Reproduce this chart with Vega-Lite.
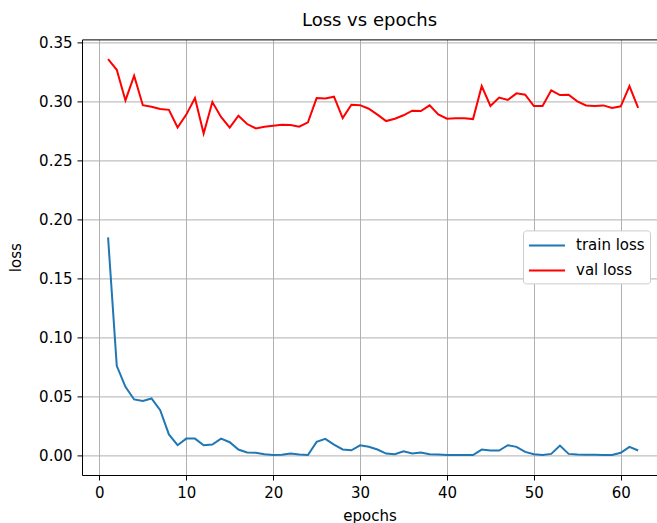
{
  "$schema": "https://vega.github.io/schema/vega-lite/v6.json",
  "autosize": "none",
  "width": 575,
  "height": 435.6,
  "padding": {"left": 82, "top": 39.4, "right": 0, "bottom": 48},
  "background": "white",
  "config": {
    "view": {"stroke": null},
    "font": "DejaVu Sans",
    "axis": {"labelFont": "DejaVu Sans", "titleFont": "DejaVu Sans", "labelColor": "#000", "titleColor": "#000", "titleFontWeight": "normal"}
  },
  "title": {"text": "Loss vs epochs", "fontSize": 18, "fontWeight": "normal", "font": "DejaVu Sans", "color": "#000", "offset": 6},
  "data": {"values": [
    {"epoch":1,"loss":0.1848,"series":"train loss"},{"epoch":2,"loss":0.0758,"series":"train loss"},{"epoch":3,"loss":0.058,"series":"train loss"},{"epoch":4,"loss":0.0473,"series":"train loss"},{"epoch":5,"loss":0.0461,"series":"train loss"},{"epoch":6,"loss":0.0481,"series":"train loss"},{"epoch":7,"loss":0.0382,"series":"train loss"},{"epoch":8,"loss":0.0176,"series":"train loss"},{"epoch":9,"loss":0.0085,"series":"train loss"},{"epoch":10,"loss":0.0141,"series":"train loss"},
    {"epoch":11,"loss":0.0141,"series":"train loss"},{"epoch":12,"loss":0.0085,"series":"train loss"},{"epoch":13,"loss":0.009,"series":"train loss"},{"epoch":14,"loss":0.0141,"series":"train loss"},{"epoch":15,"loss":0.011,"series":"train loss"},{"epoch":16,"loss":0.0048,"series":"train loss"},{"epoch":17,"loss":0.0023,"series":"train loss"},{"epoch":18,"loss":0.002,"series":"train loss"},{"epoch":19,"loss":0.0008,"series":"train loss"},{"epoch":20,"loss":0.0001,"series":"train loss"},
    {"epoch":21,"loss":0.0003,"series":"train loss"},{"epoch":22,"loss":0.0014,"series":"train loss"},{"epoch":23,"loss":0.0006,"series":"train loss"},{"epoch":24,"loss":0.0001,"series":"train loss"},{"epoch":25,"loss":0.0113,"series":"train loss"},{"epoch":26,"loss":0.0139,"series":"train loss"},{"epoch":27,"loss":0.009,"series":"train loss"},{"epoch":28,"loss":0.0049,"series":"train loss"},{"epoch":29,"loss":0.0042,"series":"train loss"},{"epoch":30,"loss":0.0084,"series":"train loss"},
    {"epoch":31,"loss":0.0071,"series":"train loss"},{"epoch":32,"loss":0.0048,"series":"train loss"},{"epoch":33,"loss":0.0014,"series":"train loss"},{"epoch":34,"loss":0.0008,"series":"train loss"},{"epoch":35,"loss":0.0034,"series":"train loss"},{"epoch":36,"loss":0.0014,"series":"train loss"},{"epoch":37,"loss":0.0023,"series":"train loss"},{"epoch":38,"loss":0.0008,"series":"train loss"},{"epoch":39,"loss":0.0006,"series":"train loss"},{"epoch":40,"loss":0.0001,"series":"train loss"},
    {"epoch":41,"loss":0.0001,"series":"train loss"},{"epoch":42,"loss":0.0001,"series":"train loss"},{"epoch":43,"loss":0.0001,"series":"train loss"},{"epoch":44,"loss":0.0048,"series":"train loss"},{"epoch":45,"loss":0.004,"series":"train loss"},{"epoch":46,"loss":0.004,"series":"train loss"},{"epoch":47,"loss":0.0085,"series":"train loss"},{"epoch":48,"loss":0.0071,"series":"train loss"},{"epoch":49,"loss":0.0028,"series":"train loss"},{"epoch":50,"loss":0.0008,"series":"train loss"},
    {"epoch":51,"loss":0.0001,"series":"train loss"},{"epoch":52,"loss":0.0011,"series":"train loss"},{"epoch":53,"loss":0.0082,"series":"train loss"},{"epoch":54,"loss":0.0011,"series":"train loss"},{"epoch":55,"loss":0.0005,"series":"train loss"},{"epoch":56,"loss":0.0004,"series":"train loss"},{"epoch":57,"loss":0.0003,"series":"train loss"},{"epoch":58,"loss":0.0001,"series":"train loss"},{"epoch":59,"loss":0.0002,"series":"train loss"},{"epoch":60,"loss":0.002,"series":"train loss"},
    {"epoch":61,"loss":0.0071,"series":"train loss"},{"epoch":62,"loss":0.004,"series":"train loss"},
    {"epoch":1,"loss":0.336,"series":"val loss"},{"epoch":2,"loss":0.327,"series":"val loss"},{"epoch":3,"loss":0.301,"series":"val loss"},{"epoch":4,"loss":0.322,"series":"val loss"},{"epoch":5,"loss":0.297,"series":"val loss"},{"epoch":6,"loss":0.2957,"series":"val loss"},{"epoch":7,"loss":0.2937,"series":"val loss"},{"epoch":8,"loss":0.293,"series":"val loss"},{"epoch":9,"loss":0.278,"series":"val loss"},{"epoch":10,"loss":0.289,"series":"val loss"},
    {"epoch":11,"loss":0.303,"series":"val loss"},{"epoch":12,"loss":0.273,"series":"val loss"},{"epoch":13,"loss":0.2997,"series":"val loss"},{"epoch":14,"loss":0.287,"series":"val loss"},{"epoch":15,"loss":0.278,"series":"val loss"},{"epoch":16,"loss":0.288,"series":"val loss"},{"epoch":17,"loss":0.281,"series":"val loss"},{"epoch":18,"loss":0.2773,"series":"val loss"},{"epoch":19,"loss":0.2787,"series":"val loss"},{"epoch":20,"loss":0.2796,"series":"val loss"},
    {"epoch":21,"loss":0.2804,"series":"val loss"},{"epoch":22,"loss":0.2801,"series":"val loss"},{"epoch":23,"loss":0.2787,"series":"val loss"},{"epoch":24,"loss":0.2824,"series":"val loss"},{"epoch":25,"loss":0.303,"series":"val loss"},{"epoch":26,"loss":0.3027,"series":"val loss"},{"epoch":27,"loss":0.3042,"series":"val loss"},{"epoch":28,"loss":0.2861,"series":"val loss"},{"epoch":29,"loss":0.2974,"series":"val loss"},{"epoch":30,"loss":0.297,"series":"val loss"},
    {"epoch":31,"loss":0.294,"series":"val loss"},{"epoch":32,"loss":0.289,"series":"val loss"},{"epoch":33,"loss":0.2835,"series":"val loss"},{"epoch":34,"loss":0.2855,"series":"val loss"},{"epoch":35,"loss":0.2884,"series":"val loss"},{"epoch":36,"loss":0.2923,"series":"val loss"},{"epoch":37,"loss":0.292,"series":"val loss"},{"epoch":38,"loss":0.2968,"series":"val loss"},{"epoch":39,"loss":0.2892,"series":"val loss"},{"epoch":40,"loss":0.2855,"series":"val loss"},
    {"epoch":41,"loss":0.2858,"series":"val loss"},{"epoch":42,"loss":0.2858,"series":"val loss"},{"epoch":43,"loss":0.2852,"series":"val loss"},{"epoch":44,"loss":0.3132,"series":"val loss"},{"epoch":45,"loss":0.2963,"series":"val loss"},{"epoch":46,"loss":0.3034,"series":"val loss"},{"epoch":47,"loss":0.3014,"series":"val loss"},{"epoch":48,"loss":0.307,"series":"val loss"},{"epoch":49,"loss":0.3059,"series":"val loss"},{"epoch":50,"loss":0.2963,"series":"val loss"},
    {"epoch":51,"loss":0.2963,"series":"val loss"},{"epoch":52,"loss":0.3096,"series":"val loss"},{"epoch":53,"loss":0.3056,"series":"val loss"},{"epoch":54,"loss":0.3059,"series":"val loss"},{"epoch":55,"loss":0.3002,"series":"val loss"},{"epoch":56,"loss":0.2968,"series":"val loss"},{"epoch":57,"loss":0.2963,"series":"val loss"},{"epoch":58,"loss":0.2968,"series":"val loss"},{"epoch":59,"loss":0.2946,"series":"val loss"},{"epoch":60,"loss":0.296,"series":"val loss"},
    {"epoch":61,"loss":0.3132,"series":"val loss"},{"epoch":62,"loss":0.2946,"series":"val loss"}
  ]},
  "resolve": {"axis": {"x": "independent", "y": "independent"}},
  "layer": [
    {
      "mark": {"type": "line", "strokeWidth": 2},
      "encoding": {
        "x": {"field": "epoch", "type": "quantitative", "scale": {"domain": [-2, 64.17], "nice": false, "zero": false},
          "axis": {"title": "epochs", "values": [0,10,20,30,40,50,60], "grid": true, "gridColor": "#b0b0b0", "gridWidth": 1, "domainColor": "#000", "domainWidth": 1, "tickColor": "#000", "tickSize": 5, "labelPadding": 5, "labelFontSize": 15, "titleFontSize": 15, "titlePadding": 8, "labelFlush": false}},
        "y": {"field": "loss", "type": "quantitative", "scale": {"domain": [-0.0168, 0.3528], "nice": false, "zero": false},
          "axis": {"title": "loss", "values": [0,0.05,0.1,0.15,0.2,0.25,0.3,0.35], "format": ".2f", "grid": true, "gridColor": "#b0b0b0", "gridWidth": 1, "domainColor": "#000", "domainWidth": 1, "tickColor": "#000", "tickSize": 5, "labelPadding": 5, "labelFontSize": 15, "titleFontSize": 15, "titlePadding": 15, "labelFlush": false}},
        "color": {"field": "series", "type": "nominal", "scale": {"domain": ["train loss", "val loss"], "range": ["#1f77b4", "#ff0000"]},
          "legend": {"title": null, "orient": "none", "legendX": 441, "legendY": 191, "symbolType": "M-1,0H3", "symbolSize": 324, "symbolStrokeWidth": 2, "symbolFillColor": "transparent", "labelFontSize": 15, "labelFont": "DejaVu Sans", "labelColor": "#000", "fillColor": "white", "strokeColor": "#cccccc", "cornerRadius": 3, "padding": 5, "rowPadding": 7, "labelOffset": 28}}
      }
    },
    {
      "mark": {"type": "line", "strokeOpacity": 0},
      "encoding": {
        "x": {"field": "epoch", "type": "quantitative", "scale": {"domain": [-2, 64.17], "nice": false, "zero": false},
          "axis": {"orient": "top", "title": null, "labels": false, "ticks": false, "grid": false, "domainColor": "#000", "domainWidth": 1}},
        "y": {"field": "loss", "type": "quantitative", "scale": {"domain": [-0.0168, 0.3528], "nice": false, "zero": false}, "axis": null}
      }
    }
  ]
}
